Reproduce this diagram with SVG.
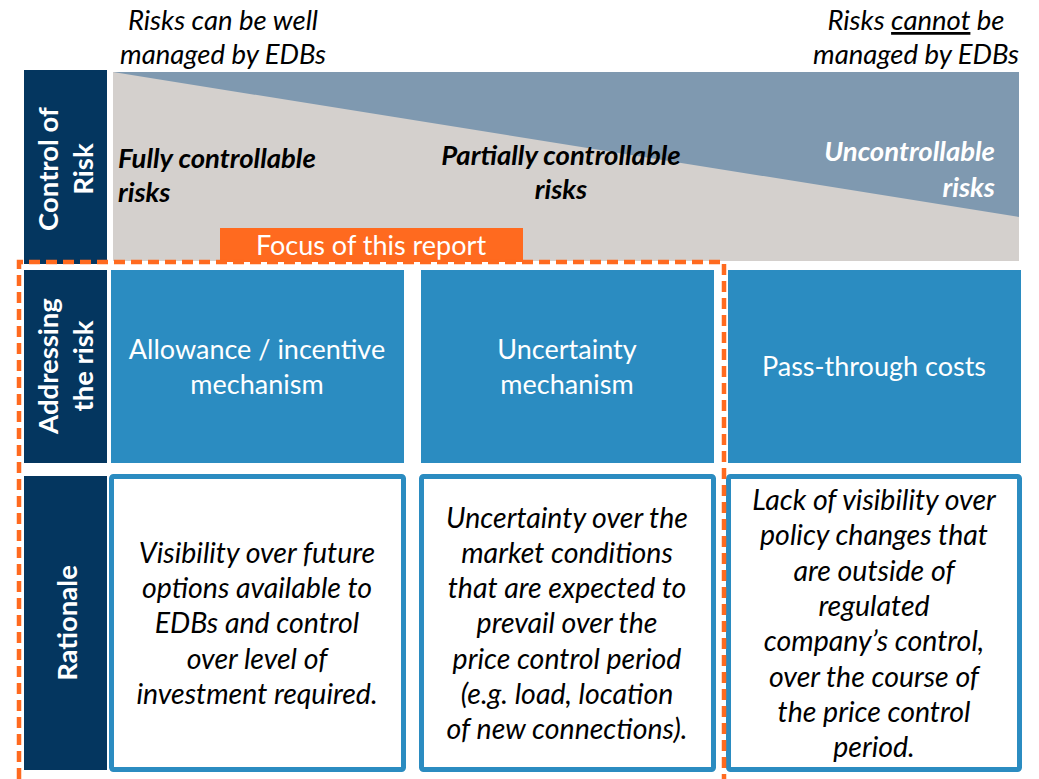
<svg xmlns="http://www.w3.org/2000/svg" width="1039" height="779" viewBox="0 0 1039 779">
<style>
  .side{fill:#04365F}
  .blue{fill:#2B8CC1}
  .box{fill:#FFFFFF;stroke:#2B8CC1;stroke-width:5}
  .sl{font-family:Lato,"Open Sans","Liberation Sans",sans-serif;font-weight:bold;font-size:27.5px;fill:#FFFFFF;text-anchor:middle}
  .hdr{font-family:Lato,"Open Sans","Liberation Sans",sans-serif;font-style:italic;font-size:27.5px;fill:#000000;text-anchor:middle}
  .bi{font-family:Lato,"Open Sans","Liberation Sans",sans-serif;font-style:italic;font-weight:bold;font-size:27.5px}
  .wt{font-family:Lato,"Open Sans","Liberation Sans",sans-serif;font-size:27px;fill:#FFFFFF;text-anchor:middle}
  .it{font-family:Lato,"Open Sans","Liberation Sans",sans-serif;font-style:italic;font-size:28.5px;fill:#000000;text-anchor:middle}
</style>
<rect width="1039" height="779" fill="#FFFFFF"/>

<g id="header-left">
  <text class="hdr" x="223" y="30">Risks can be well</text>
  <text class="hdr" x="223" y="63.5">managed by EDBs</text>
</g>
<g id="header-right">
  <text class="hdr" x="916" y="30">Risks <tspan text-decoration="underline">cannot</tspan> be</text>
  <text class="hdr" x="916" y="63.5">managed by EDBs</text>
</g>

<g id="control-of-risk">
  <rect class="side" x="24" y="70" width="83" height="194"/>
  <text class="sl" transform="translate(58,169) rotate(-90)">Control of</text>
  <text class="sl" transform="translate(93,169) rotate(-90)">Risk</text>
</g>

<g id="risk-spectrum">
  <rect x="113" y="72" width="906" height="189" fill="#D4D0CD"/>
  <polygon points="113,72 1019,72 1019,217" fill="#7F99B0"/>
  <text class="bi" x="118" y="168" fill="#000000">Fully controllable</text>
  <text class="bi" x="118" y="201.5" fill="#000000">risks</text>
  <text class="bi" x="561" y="165" fill="#000000" text-anchor="middle">Partially controllable</text>
  <text class="bi" x="561" y="198.5" fill="#000000" text-anchor="middle">risks</text>
  <text class="bi" x="995" y="161" fill="#FFFFFF" text-anchor="end">Uncontrollable</text>
  <text class="bi" x="995" y="197" fill="#FFFFFF" text-anchor="end">risks</text>
</g>

<g id="focus-label">
  <rect x="220" y="228" width="303" height="34" fill="#FF6A1F"/>
  <text class="wt" x="371" y="255">Focus of this report</text>
</g>

<g id="addressing-the-risk">
  <rect class="side" x="24" y="270" width="83" height="193"/>
  <text class="sl" transform="translate(58,366) rotate(-90)">Addressing</text>
  <text class="sl" transform="translate(93,366) rotate(-90)">the risk</text>
</g>
<g id="allowance">
  <rect class="blue" x="111" y="270" width="293" height="193"/>
  <text class="wt" x="257" y="359">Allowance / incentive</text>
  <text class="wt" x="257" y="394">mechanism</text>
</g>
<g id="uncertainty">
  <rect class="blue" x="421" y="270" width="293" height="193"/>
  <text class="wt" x="567" y="359">Uncertainty</text>
  <text class="wt" x="567" y="394">mechanism</text>
</g>
<g id="pass-through">
  <rect class="blue" x="728" y="270" width="293" height="193"/>
  <text class="wt" x="874" y="376">Pass-through costs</text>
</g>

<g id="rationale">
  <rect class="side" x="24" y="476" width="83" height="294"/>
  <text class="sl" transform="translate(77,623) rotate(-90)">Rationale</text>
</g>
<g id="rationale-allowance">
  <rect class="box" x="111.5" y="476.5" width="292" height="293" rx="2"/>
  <text class="it" x="257" y="563">Visibility over future</text>
  <text class="it" x="257" y="598">options available to</text>
  <text class="it" x="257" y="633">EDBs and control</text>
  <text class="it" x="257" y="669">over level of</text>
  <text class="it" x="257" y="704">investment required.</text>
</g>
<g id="rationale-uncertainty">
  <rect class="box" x="421.5" y="476.5" width="292" height="293" rx="2"/>
  <text class="it" x="567" y="528">Uncertainty over the</text>
  <text class="it" x="567" y="563">market conditions</text>
  <text class="it" x="567" y="598">that are expected to</text>
  <text class="it" x="567" y="633">prevail over the</text>
  <text class="it" x="567" y="669">price control period</text>
  <text class="it" x="567" y="704">(e.g. load, location</text>
  <text class="it" x="567" y="739">of new connections).</text>
</g>
<g id="rationale-pass-through">
  <rect class="box" x="728.5" y="476.5" width="291" height="293" rx="2"/>
  <text class="it" x="874" y="510">Lack of visibility over</text>
  <text class="it" x="874" y="545">policy changes that</text>
  <text class="it" x="874" y="581">are outside of</text>
  <text class="it" x="874" y="616">regulated</text>
  <text class="it" x="874" y="651">company’s control,</text>
  <text class="it" x="874" y="687">over the course of</text>
  <text class="it" x="874" y="722">the price control</text>
  <text class="it" x="874" y="757">period.</text>
</g>

<g id="connectors">
  <path d="M19,779 V262 H724 V779" fill="none" stroke="#FF6A1F" stroke-width="4.5" stroke-dasharray="11 6"/>
</g>
</svg>
